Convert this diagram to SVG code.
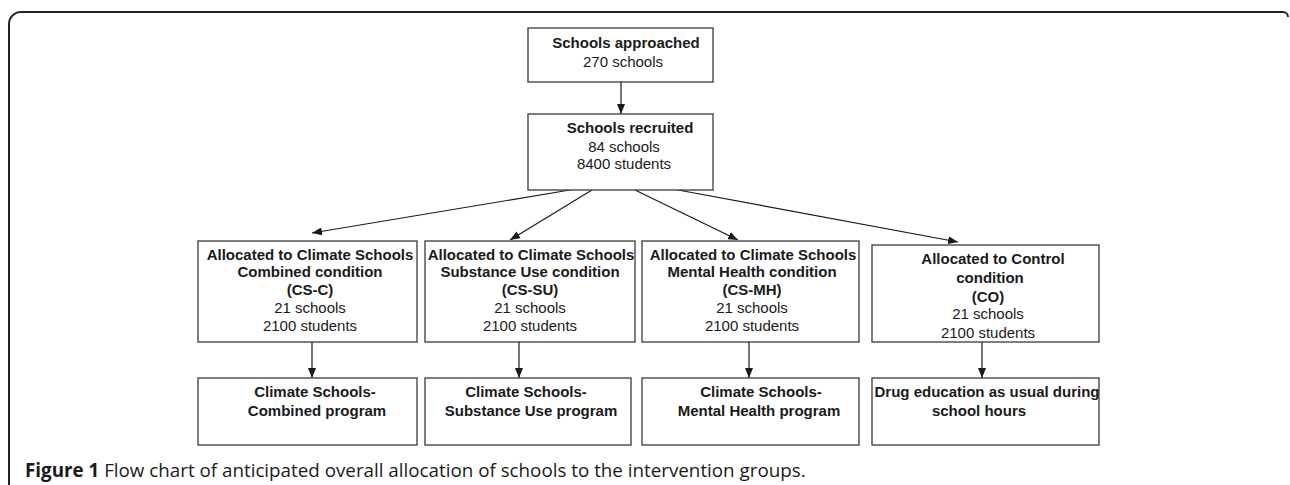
<svg xmlns="http://www.w3.org/2000/svg" width="1290" height="485" viewBox="0 0 1290 485">
<style>
.box{fill:#fff;stroke:#3a3a3a;stroke-width:1.3}
.t{font-family:"Liberation Sans",Arial,sans-serif;font-size:15px;fill:#1a1a1a;text-anchor:middle}
.b{font-weight:bold}
.c{stroke:#1a1a1a;stroke-width:1.2;fill:none;marker-end:url(#ah)}
.cap{font-family:"Open Sans","Liberation Sans",sans-serif;font-size:18.8px;fill:#1a1a1a}
</style>
<defs>
<marker id="ah" markerUnits="userSpaceOnUse" markerWidth="10" markerHeight="8" refX="10" refY="4" orient="auto">
<path d="M0,0 L10,4 L0,8 Z" fill="#1a1a1a"/>
</marker>
</defs>
<rect width="1290" height="485" fill="#fff"/>
<path d="M9,490 V24 A12,12 0 0 1 21,12 H1283 A5,5 0 0 1 1288,17" fill="none" stroke="#222" stroke-width="2"/>

<g id="connectors">
<line class="c" x1="621" y1="82" x2="621" y2="114"/>
<line class="c" x1="570" y1="190" x2="312" y2="233"/>
<line class="c" x1="592" y1="190" x2="510" y2="240"/>
<line class="c" x1="635" y1="190" x2="738" y2="240"/>
<line class="c" x1="678" y1="190" x2="958" y2="242"/>
<line class="c" x1="312" y1="342" x2="312" y2="378"/>
<line class="c" x1="519" y1="342" x2="519" y2="378"/>
<line class="c" x1="749" y1="342" x2="749" y2="378"/>
<line class="c" x1="982" y1="342" x2="982" y2="378"/>
</g>

<g id="approached">
<rect class="box" x="528" y="28" width="185" height="54"/>
<text class="t b" x="626" y="48">Schools approached</text>
<text class="t" x="623" y="66.5">270 schools</text>
</g>

<g id="recruited">
<rect class="box" x="528" y="114" width="185" height="76"/>
<text class="t b" x="630" y="133">Schools recruited</text>
<text class="t" x="624" y="151.5">84 schools</text>
<text class="t" x="624" y="169">8400 students</text>
</g>

<g id="cs-c">
<rect class="box" x="198" y="241" width="219" height="101"/>
<text class="t b" x="310" y="259.5">Allocated to Climate Schools</text>
<text class="t b" x="310" y="277.3">Combined condition</text>
<text class="t b" x="310" y="295.1">(CS-C)</text>
<text class="t" x="310" y="312.9">21 schools</text>
<text class="t" x="310" y="330.7">2100 students</text>
</g>

<g id="cs-su">
<rect class="box" x="425" y="241" width="210" height="101"/>
<text class="t b" x="531" y="259.5">Allocated to Climate Schools</text>
<text class="t b" x="530" y="277.3">Substance Use condition</text>
<text class="t b" x="530" y="295.1">(CS-SU)</text>
<text class="t" x="530" y="312.9">21 schools</text>
<text class="t" x="530" y="330.7">2100 students</text>
</g>

<g id="cs-mh">
<rect class="box" x="642" y="241" width="217" height="101"/>
<text class="t b" x="753" y="259.5">Allocated to Climate Schools</text>
<text class="t b" x="752" y="277.3">Mental Health condition</text>
<text class="t b" x="752" y="295.1">(CS-MH)</text>
<text class="t" x="752" y="312.9">21 schools</text>
<text class="t" x="752" y="330.7">2100 students</text>
</g>

<g id="co">
<rect class="box" x="872" y="245" width="227" height="97"/>
<text class="t b" x="993" y="264">Allocated to Control</text>
<text class="t b" x="990" y="283">condition</text>
<text class="t b" x="988" y="301.5">(CO)</text>
<text class="t" x="988" y="319">21 schools</text>
<text class="t" x="988" y="338">2100 students</text>
</g>

<g id="prog-c">
<rect class="box" x="198" y="378" width="219" height="67"/>
<text class="t b" x="315" y="396.5">Climate Schools-</text>
<text class="t b" x="317" y="415.5">Combined program</text>
</g>

<g id="prog-su">
<rect class="box" x="425" y="378" width="206" height="67"/>
<text class="t b" x="526" y="396.5">Climate Schools-</text>
<text class="t b" x="531" y="415.5">Substance Use program</text>
</g>

<g id="prog-mh">
<rect class="box" x="642" y="378" width="217" height="67"/>
<text class="t b" x="761" y="396.5">Climate Schools-</text>
<text class="t b" x="759" y="415.5">Mental Health program</text>
</g>

<g id="prog-co">
<rect class="box" x="872" y="378" width="227" height="67"/>
<text class="t b" x="987" y="396.5">Drug education as usual during</text>
<text class="t b" x="979" y="415.5">school hours</text>
</g>

<text class="cap" x="25" y="477"><tspan font-weight="bold">Figure 1</tspan> Flow chart of anticipated overall allocation of schools to the intervention groups.</text>
</svg>
